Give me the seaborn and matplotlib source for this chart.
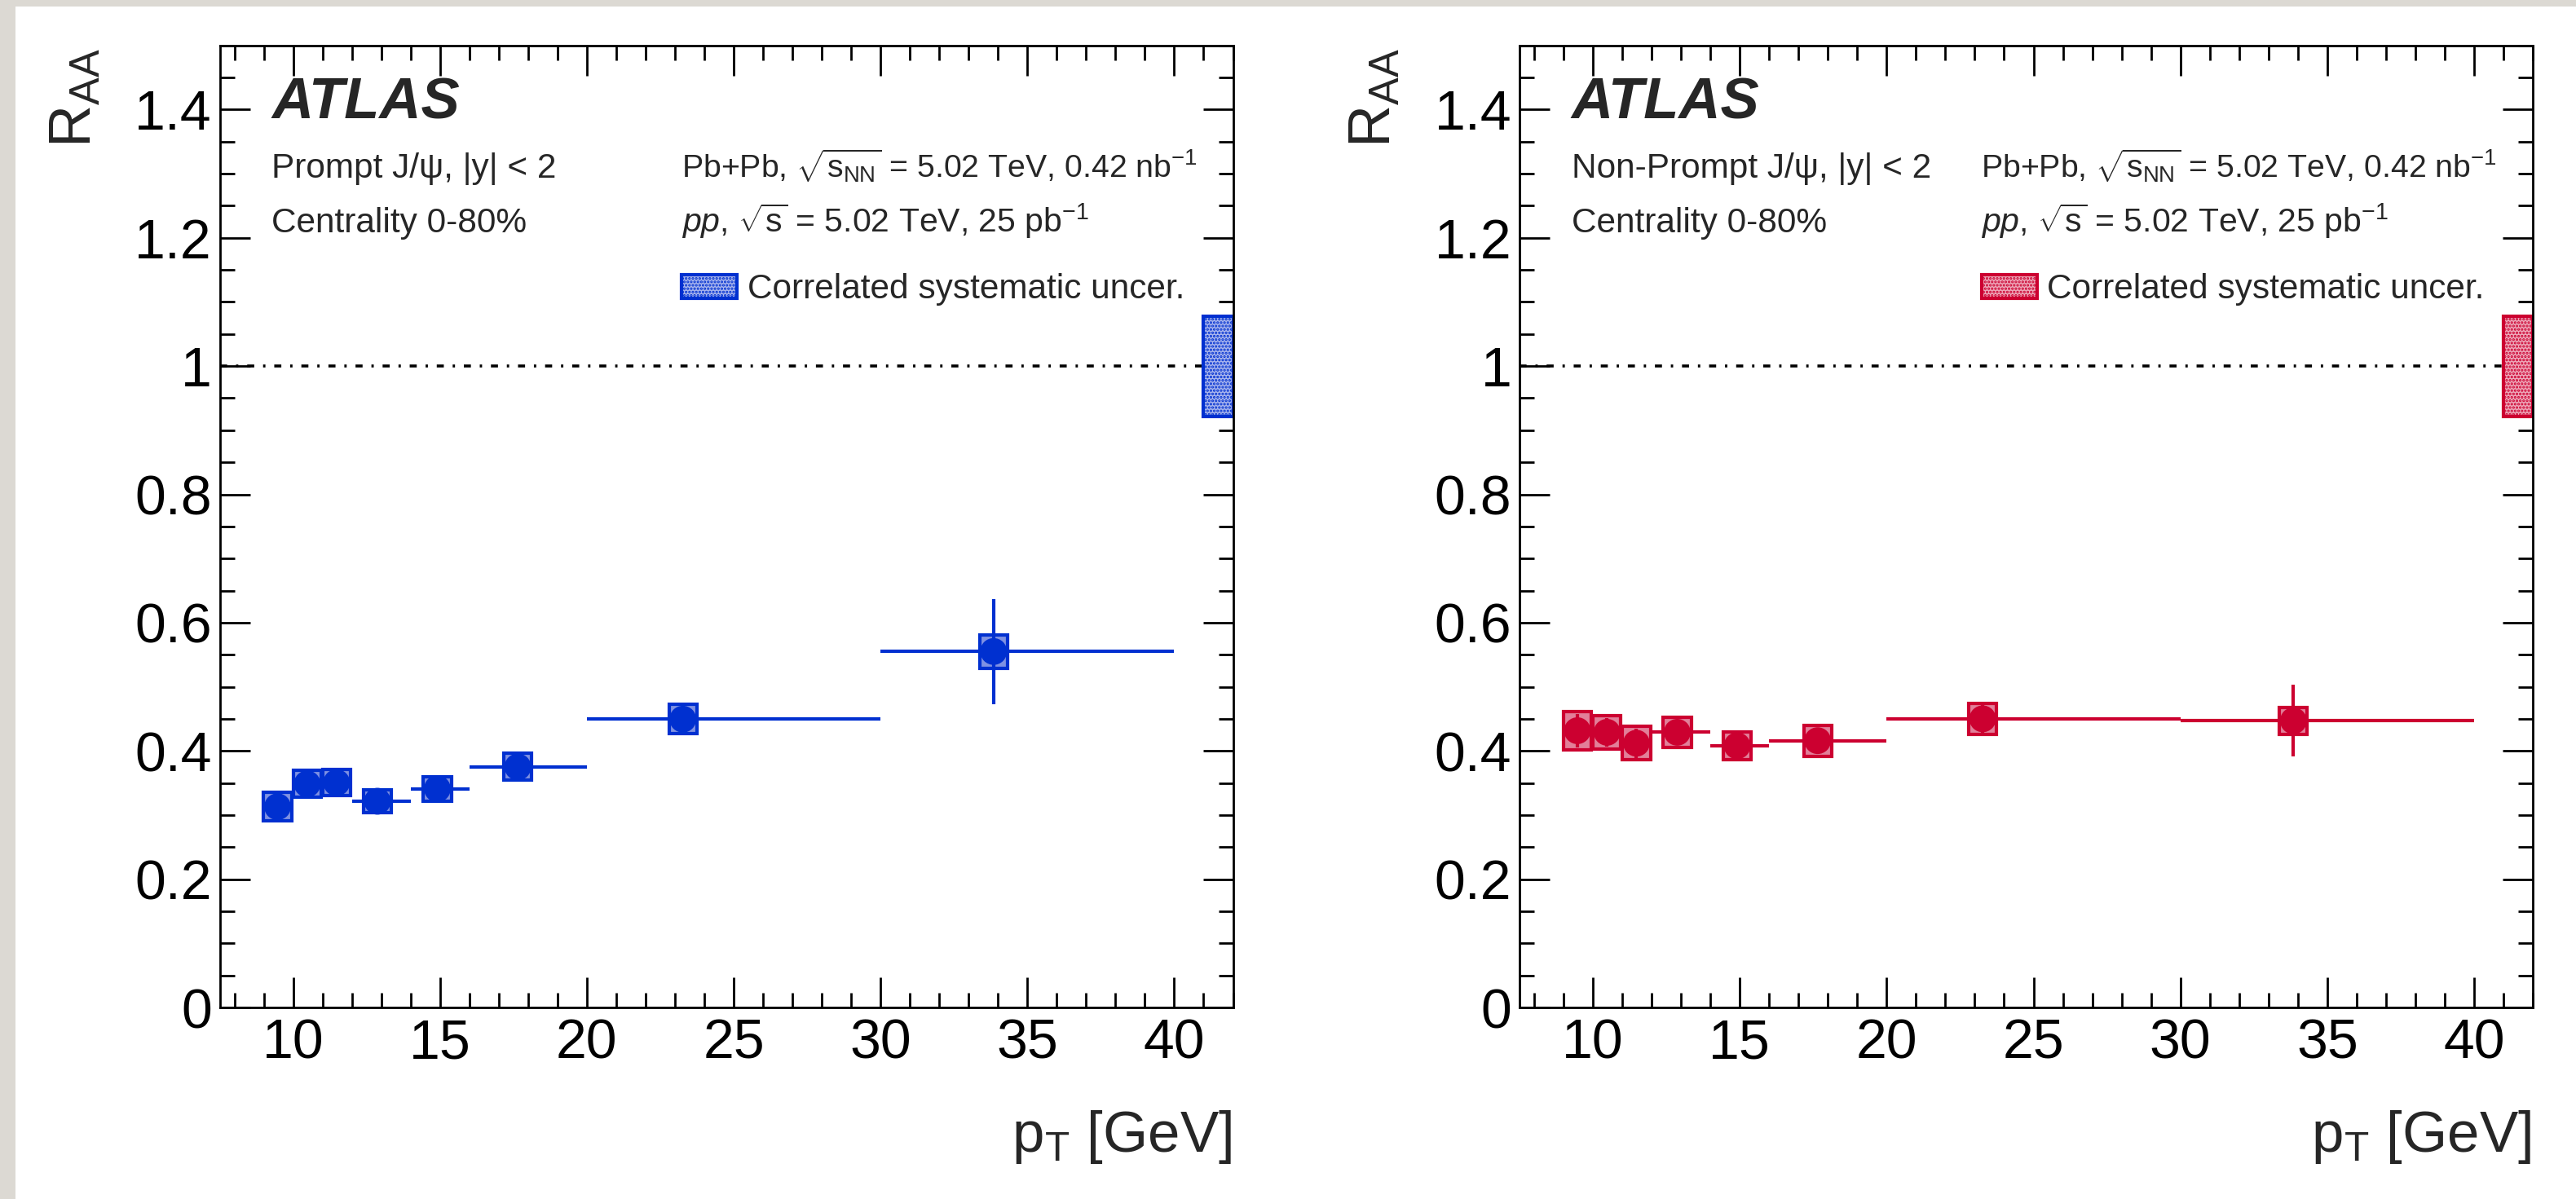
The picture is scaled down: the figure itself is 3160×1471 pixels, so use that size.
import numpy as np
import pandas as pd
import matplotlib
matplotlib.use("Agg")
import matplotlib.pyplot as plt
from matplotlib.patches import Rectangle
from matplotlib.ticker import MultipleLocator, FuncFormatter
import seaborn as sns

# ---------------- data ----------------
pt_center = [9.47, 10.48, 11.48, 12.87, 14.91, 17.65, 23.27, 33.85]
pt_lo = [9, 10, 11, 12, 14, 16, 20, 30]
pt_hi = [10, 11, 12, 14, 16, 20, 30, 40]

prompt_raa = [0.313, 0.3485, 0.3505, 0.3215, 0.341, 0.375, 0.4495, 0.555]
prompt_stat = [0.012, 0.012, 0.012, 0.012, 0.013, 0.014, 0.018, 0.082]
prompt_syst = [0.022, 0.021, 0.020, 0.018, 0.019, 0.021, 0.023, 0.026]

nonprompt_raa = [0.4315, 0.429, 0.412, 0.429, 0.408, 0.416, 0.450, 0.447]
nonprompt_stat = [0.026, 0.022, 0.0225, 0.015, 0.020, 0.020, 0.022, 0.056]
nonprompt_syst = [0.030, 0.026, 0.026, 0.024, 0.022, 0.024, 0.024, 0.021]

global_syst = [0.078, 0.078]

panel_titles = ["Prompt J/\u03c8, |y| < 2", "Non-Prompt J/\u03c8, |y| < 2"]
panel_colors = ["#0030d0", "#cc0030"]
panel_fills = ["#7f91e3", "#e27f99"]
panel_tints = ["#aab6ee", "#eeaabb"]

y_ticks = [0, 0.2, 0.4, 0.6, 0.8, 1.0, 1.2, 1.4]
x_ticks = [10, 15, 20, 25, 30, 35, 40]

# ---------------- style ----------------
sns.set_theme(style="ticks")
plt.rcParams["font.family"] = ["Liberation Sans", "DejaVu Sans"]
plt.rcParams["mathtext.fontset"] = "custom"
plt.rcParams["mathtext.rm"] = "Liberation Sans"
plt.rcParams["mathtext.it"] = "Liberation Sans:italic"
plt.rcParams["mathtext.bf"] = "Liberation Sans:bold"
plt.rcParams["hatch.linewidth"] = 1.6

W, H = 3160, 1471
fig = plt.figure(figsize=(W / 100, H / 100), dpi=100)
fig.patch.set_facecolor("white")
# gray paper border at left and top
fig.patches.append(Rectangle((0, 0), 19 / W, 1, transform=fig.transFigure,
                             facecolor="#dcd9d3", edgecolor="none", zorder=0))
fig.patches.append(Rectangle((0, 1 - 8 / H), 1, 8 / H, transform=fig.transFigure,
                             facecolor="#dcd9d3", edgecolor="none", zorder=0))

ax_w = 1243 / W
ax_h = (1236 - 55.7) / H
ax_b = 1 - 1236 / H
lefts = [269.5 / W, 1864 / W]

series = [(prompt_raa, prompt_stat, prompt_syst),
          (nonprompt_raa, nonprompt_stat, nonprompt_syst)]

def fmt(v, pos):
    s = f"{v:.1f}"
    if s.endswith(".0"):
        s = s[:-2]
    return s

for i in range(2):
    ax = fig.add_axes([lefts[i], ax_b, ax_w, ax_h])
    raa, stat, syst = series[i]
    col = panel_colors[i]
    fill = panel_fills[i]
    tint = panel_tints[i]
    df = pd.DataFrame({"pt": pt_center, "raa": raa, "stat": stat, "syst": syst,
                       "lo": pt_lo, "hi": pt_hi})

    # reference line at 1
    ax.axhline(1.0, color="black", lw=2.6, dashes=(2.4, 3.0, 0.8, 3.0), zorder=1)

    # systematic boxes
    ax.bar(df["pt"], 2 * df["syst"], bottom=df["raa"] - df["syst"], width=0.95,
           color=fill, edgecolor=col, linewidth=3.0, zorder=2)

    # global correlated systematic box
    ax.bar([41.5], [2 * global_syst[i]], bottom=[1 - global_syst[i]], width=1.0,
           facecolor=tint, edgecolor=col, hatch="....", linewidth=3.0, zorder=2)

    # error bars
    xerr = np.array([df["pt"] - df["lo"], df["hi"] - df["pt"]])
    ax.errorbar(df["pt"], df["raa"], xerr=xerr, yerr=df["stat"], fmt="none",
                ecolor=col, elinewidth=3.0, capsize=0, zorder=3)

    # markers
    sns.scatterplot(data=df, x="pt", y="raa", ax=ax, color=col, s=560,
                    marker="o", edgecolor="none", linewidth=0, zorder=4, legend=False)

    ax.set_xlim(7.5, 42)
    ax.set_ylim(0, 1.5)
    ax.set_xticks(x_ticks)
    ax.set_yticks(y_ticks)
    ax.xaxis.set_minor_locator(MultipleLocator(1))
    ax.yaxis.set_minor_locator(MultipleLocator(0.05))
    ax.yaxis.set_major_formatter(FuncFormatter(fmt))
    ax.tick_params(which="both", direction="in", top=True, right=True,
                   width=2.0, colors="black", labelsize=49)
    ax.tick_params(which="major", length=26.5)
    ax.tick_params(which="minor", length=13)
    ax.tick_params(axis="x", which="major", pad=9)
    ax.tick_params(axis="y", which="major", pad=7)
    for sp in ax.spines.values():
        sp.set_linewidth(2.0)
        sp.set_color("black")
        sp.set_visible(True)
    ax.set_xlabel("")
    ax.set_ylabel("")

    # axis titles
    ax.text(-0.142, 0.997, r"R$_{\mathrm{AA}}$", rotation=90, transform=ax.transAxes,
            ha="center", va="top", fontsize=52)
    ax.text(0.9985, -0.150, r"p$_{\mathrm{T}}$ [GeV]", transform=ax.transAxes,
            ha="right", va="baseline", fontsize=51)

    # annotations
    ax.text(0.0511, 0.924, "ATLAS", transform=ax.transAxes, ha="left", va="baseline",
            fontsize=51, fontweight="bold", fontstyle="italic")
    ax.text(0.0511, 0.8625, panel_titles[i], transform=ax.transAxes,
            ha="left", va="baseline", fontsize=30.5)
    ax.text(0.0511, 0.806, "Centrality 0-80%", transform=ax.transAxes,
            ha="left", va="baseline", fontsize=30.5)
    ax.text(0.4557, 0.8625,
            r"Pb+Pb, $\sqrt{\mathrm{s}_{\mathrm{NN}}}$ = 5.02 TeV, 0.42 nb$^{\mathrm{-1}}$",
            transform=ax.transAxes, ha="left", va="baseline", fontsize=28.3)
    ax.text(0.4557, 0.806,
            r"$pp$, $\sqrt{\mathrm{s}}$ = 5.02 TeV, 25 pb$^{\mathrm{-1}}$",
            transform=ax.transAxes, ha="left", va="baseline", fontsize=29.5)
    ax.add_patch(Rectangle((0.4558, 0.737), 0.0547, 0.0246, transform=ax.transAxes,
                           facecolor=tint, edgecolor=col, hatch="....",
                           linewidth=3.0, zorder=5))
    ax.text(0.5209, 0.7372, "Correlated systematic uncer.", transform=ax.transAxes,
            ha="left", va="baseline", fontsize=30.5)

fig.savefig("out.png", dpi=100, facecolor=fig.get_facecolor())
